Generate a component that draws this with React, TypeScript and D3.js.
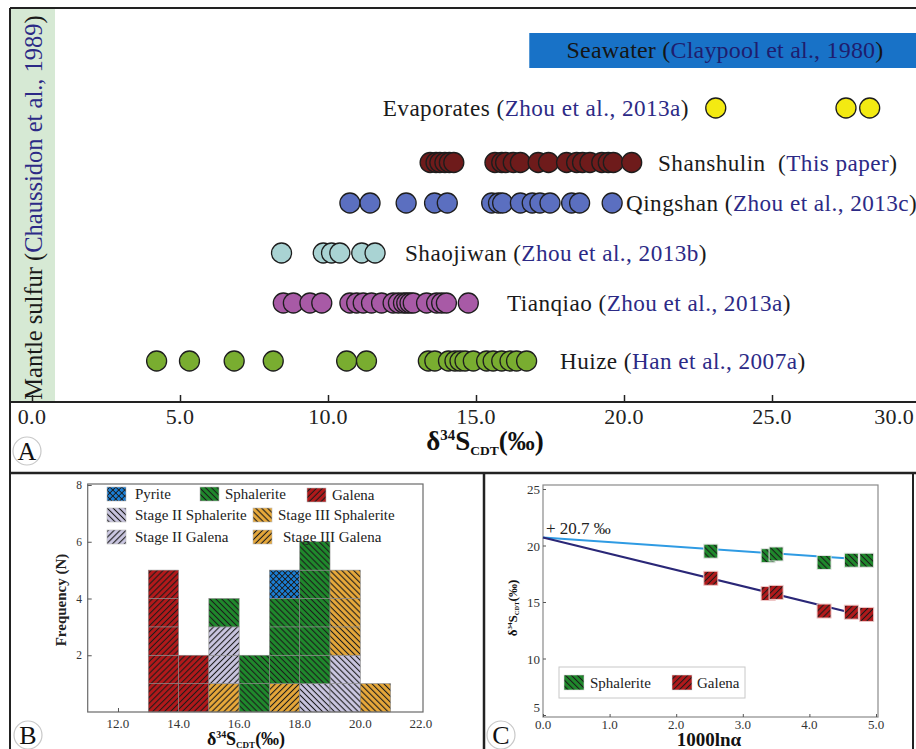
import { useEffect, useRef } from "react";
import * as d3 from "d3";

const W = 916;
const H = 749;

// ---- Panel A: δ34S of sulfur reservoirs / deposits ----
const SOURCES = ["Evaporates", "Shanshulin", "Qingshan", "Shaojiwan", "Tianqiao", "Huize"];
const CITES = ["Zhou et al., 2013a", "This paper", "Zhou et al., 2013c", "Zhou et al., 2013b", "Zhou et al., 2013a", "Han et al., 2007a"];
const evaporates = [23.1, 27.5, 28.3];
const shanshulin = [13.45, 13.65, 13.78, 13.95, 14.1, 14.25, 15.64, 15.87, 16.0, 16.26, 16.5, 17.1, 17.45, 18.06, 18.4, 18.6, 18.85, 19.25, 19.47, 19.64, 20.26];
const qingshan = [10.74, 11.42, 12.64, 13.6, 14.03, 15.53, 15.76, 15.9, 16.5, 16.9, 17.16, 17.5, 18.23, 18.5, 19.6];
const shaojiwan = [8.43, 9.84, 10.12, 10.4, 11.14, 11.59];
const tianqiao = [8.49, 8.83, 9.39, 9.79, 10.74, 10.97, 11.19, 11.47, 11.81, 12.2, 12.38, 12.55, 12.66, 12.77, 12.88, 13.33, 13.67, 13.84, 14.0, 14.74];
const huize = [4.21, 5.32, 6.83, 8.15, 10.63, 11.3, 13.39, 13.61, 14.07, 14.29, 14.46, 14.63, 14.91, 15.36, 15.58, 15.87, 16.15, 16.37, 16.71];
const SERIES = [evaporates, shanshulin, qingshan, shaojiwan, tianqiao, huize];
const SERIES_COLORS = ["#f3ea12", "#6e1b1b", "#5b6fc0", "#a9d3d3", "#a85aa6", "#79ad30"];
const seawater = [16.8, 31];
const aTicks = [0, 5, 10, 15, 20, 25, 30];

// ---- Panel B: histogram (counts per 1‰ bin) ----
const binStarts = [13, 14, 15, 16, 17, 18, 19, 20];
const galena = [5, 2, 0, 0, 0, 0, 0, 0];
const stage3Galena = [0, 0, 1, 0, 1, 0, 0, 0];
const stage2Sphalerite = [0, 0, 0, 0, 0, 1, 2, 0];
const stage2Galena = [0, 0, 2, 0, 0, 0, 0, 0];
const sphalerite = [0, 0, 1, 2, 3, 5, 0, 0];
const stage3Sphalerite = [0, 0, 0, 0, 0, 0, 3, 1];
const pyrite = [0, 0, 0, 0, 1, 0, 0, 0];
const bXTicks = [12, 14, 16, 18, 20, 22];
const bYTicks = [2, 4, 6, 8];

// ---- Panel C: 1000lnα vs δ34S ----
const fracX = [2.52, 3.38, 3.5, 4.22, 4.63, 4.86];
const sphC = [19.5, 19.1, 19.25, 18.5, 18.7, 18.7];
const galC = [17.1, 15.75, 15.85, 14.2, 14.1, 13.9];
const sphLine = [[0, 20.7], [4.6, 18.85]];
const galLine = [[0, 20.7], [4.6, 14.1]];
const cXTicks = [0, 1, 2, 3, 4, 5];
const cYTicks = [5, 10, 15, 20, 25];

const SERIF = "'Liberation Serif', 'Times New Roman', serif";
const NAVY = "#2c2a86";

type Sel = d3.Selection<any, unknown, null, undefined>;

function deltaTitle(t: Sel, size: number) {
  t.append("tspan").text("δ");
  t.append("tspan").attr("font-size", size * 0.55).attr("dy", -size * 0.38).text("34");
  t.append("tspan").attr("dy", size * 0.38).text("S");
  t.append("tspan").attr("font-size", size * 0.5).attr("dy", size * 0.18).text("CDT");
  t.append("tspan").attr("dy", -size * 0.18).text("(‰)");
}

function hatch(defs: Sel, id: string, fill: string, angle: number, cross = false) {
  const s = 4.2;
  const p = defs
    .append("pattern")
    .attr("id", id)
    .attr("patternUnits", "userSpaceOnUse")
    .attr("width", s)
    .attr("height", s)
    .attr("patternTransform", `rotate(${angle})`);
  p.append("rect").attr("width", s).attr("height", s).attr("fill", fill);
  p.append("line").attr("x1", s / 2).attr("x2", s / 2).attr("y1", 0).attr("y2", s)
    .attr("stroke", "#1b1b1b").attr("stroke-width", cross ? 0.9 : 1.1);
  if (cross)
    p.append("line").attr("y1", s / 2).attr("y2", s / 2).attr("x1", 0).attr("x2", s)
      .attr("stroke", "#1b1b1b").attr("stroke-width", 0.9);
}

function panelLetter(svg: Sel, x: number, y: number, letter: string) {
  svg.append("circle").attr("cx", x).attr("cy", y).attr("r", 14)
    .attr("fill", "#fff").attr("stroke", "#c8c8c8").attr("stroke-width", 1.2);
  svg.append("text").attr("x", x).attr("y", y + 9).attr("text-anchor", "middle")
    .attr("font-family", SERIF).attr("font-size", 26).attr("fill", "#111").text(letter);
}

export default function App() {
  const svgRef = useRef<SVGSVGElement>(null);

  useEffect(() => {
    if (!svgRef.current) return;
    const svg = d3.select(svgRef.current);
    svg.selectAll("*").remove();

    const defs = svg.append("defs");
    hatch(defs, "sph", "#1f8a2c", -45);
    hatch(defs, "gal", "#b3191b", 45);
    hatch(defs, "s2sph", "#cbc7e2", -45);
    hatch(defs, "s2gal", "#cbc7e2", 45);
    hatch(defs, "s3sph", "#e8a93a", -45);
    hatch(defs, "s3gal", "#e8a93a", 45);
    hatch(defs, "pyr", "#1a7fd6", 45, true);

    svg.append("rect").attr("width", W).attr("height", H).attr("fill", "#fff");

    // ================= Panel A =================
    const xA = d3.scaleLinear().domain([0, 30]).range([32, 920]);
    const rowY = [108, 162.5, 203, 253, 303, 361];
    const axisY = 402;

    // mantle sulfur band
    svg.append("rect").attr("x", 11).attr("y", 9).attr("width", 44).attr("height", axisY - 9)
      .attr("fill", "#d6e9d4");
    const mt = svg.append("text")
      .attr("transform", `translate(42,${(axisY + 13) / 2}) rotate(-90)`)
      .attr("text-anchor", "middle").attr("font-family", SERIF).attr("font-size", 24.5).attr("fill", "#1a1a1a");
    mt.append("tspan").text("Mantle sulfur (");
    mt.append("tspan").attr("fill", NAVY).text("Chaussidon et al., 1989");
    mt.append("tspan").text(")");

    // seawater bar
    svg.append("rect").attr("x", xA(seawater[0])).attr("y", 33).attr("width", xA(seawater[1]) - xA(seawater[0]))
      .attr("height", 35).attr("fill", "#1872c7");
    const sw = svg.append("text").attr("x", 725).attr("y", 58).attr("text-anchor", "middle")
      .attr("font-family", SERIF).attr("font-size", 24).attr("letter-spacing", 0.2).attr("fill", "#151515");
    sw.append("tspan").text("Seawater (");
    sw.append("tspan").attr("fill", "#1f1d6e").text("Claypool et al., 1980");
    sw.append("tspan").text(")");

    // rows of circles
    SERIES.forEach((vals, i) => {
      svg.append("g").selectAll("circle").data(vals).join("circle")
        .attr("cx", (d) => xA(d)).attr("cy", rowY[i]).attr("r", 10)
        .attr("fill", SERIES_COLORS[i]).attr("stroke", "#1d1d1d").attr("stroke-width", 1.3);
    });

    // row labels
    const labelPos: [number, string][] = [[689, "end"], [658, "start"], [626, "start"], [405, "start"], [507, "start"], [560, "start"]];
    SOURCES.forEach((name, i) => {
      const t = svg.append("text").attr("x", labelPos[i][0]).attr("y", rowY[i] + 8)
        .attr("text-anchor", labelPos[i][1]).attr("font-family", SERIF).attr("font-size", 23.2)
        .attr("fill", "#1a1a1a").attr("letter-spacing", 0.45);
      t.append("tspan").text(name + (name === "Shanshulin" ? "\u00a0\u00a0(" : " ("));
      t.append("tspan").attr("fill", NAVY).text(CITES[i]);
      t.append("tspan").text(")");
    });

    // x axis
    svg.append("line").attr("x1", 10).attr("x2", W).attr("y1", axisY).attr("y2", axisY)
      .attr("stroke", "#222").attr("stroke-width", 1.8);
    const gA = svg.append("g").attr("transform", `translate(0,${axisY})`)
      .call(d3.axisTop(xA).tickValues(aTicks).tickSize(7).tickFormat(() => ""));
    gA.select(".domain").remove();
    gA.selectAll(".tick line").attr("stroke", "#222").attr("stroke-width", 1.5);
    svg.append("g").selectAll("text").data(aTicks).join("text")
      .attr("x", (d) => (d === 30 ? W - 2 : xA(d)))
      .attr("y", axisY + 22)
      .attr("text-anchor", (d) => (d === 30 ? "end" : "middle"))
      .attr("font-family", SERIF).attr("font-size", 22).attr("letter-spacing", 0.3).attr("fill", "#222")
      .text((d) => d3.format(".1f")(d));
    const tA = svg.append("text").attr("x", 485).attr("y", 450).attr("text-anchor", "middle")
      .attr("font-family", SERIF).attr("font-size", 27).attr("font-weight", "bold").attr("fill", "#111");
    deltaTitle(tA, 27);

    // ================= Panel B =================
    const xB = d3.scaleLinear().domain([11, 22.07]).range([87.7, 423]);
    const yB = d3.scaleLinear().domain([0, 8]).range([712, 485]);
    const keys = ["galena", "stage3Galena", "stage2Sphalerite", "stage2Galena", "sphalerite", "stage3Sphalerite", "pyrite"];
    const fills: Record<string, string> = {
      galena: "url(#gal)", stage3Galena: "url(#s3gal)", stage2Sphalerite: "url(#s2sph)",
      stage2Galena: "url(#s2gal)", sphalerite: "url(#sph)", stage3Sphalerite: "url(#s3sph)", pyrite: "url(#pyr)",
    };
    const table = binStarts.map((b, i) => ({
      bin: b, galena: galena[i], stage3Galena: stage3Galena[i], stage2Sphalerite: stage2Sphalerite[i],
      stage2Galena: stage2Galena[i], sphalerite: sphalerite[i], stage3Sphalerite: stage3Sphalerite[i], pyrite: pyrite[i],
    }));
    const stacked = d3.stack<any>().keys(keys)(table);
    const gB = svg.append("g");
    stacked.forEach((layer) => {
      layer.forEach((seg) => {
        const [y0, y1] = seg;
        const bin = seg.data.bin;
        for (let u = y0; u < y1; u++) {
          gB.append("rect")
            .attr("x", xB(bin)).attr("width", xB(bin + 1) - xB(bin))
            .attr("y", yB(u + 1)).attr("height", yB(u) - yB(u + 1))
            .attr("fill", fills[layer.key]).attr("stroke", "#8a8a8a").attr("stroke-width", 0.6);
        }
      });
    });
    svg.append("rect").attr("x", 87.7).attr("y", 484).attr("width", 423 - 87.7).attr("height", 712 - 484)
      .attr("fill", "none").attr("stroke", "#6a6a6a").attr("stroke-width", 1.2);
    const gBy = svg.append("g").attr("transform", "translate(87.7,0)")
      .call(d3.axisRight(yB).tickValues(bYTicks).tickSize(4).tickFormat(() => ""));
    gBy.select(".domain").remove();
    gBy.selectAll(".tick line").attr("stroke", "#555");
    svg.append("g").selectAll("text").data(bYTicks).join("text")
      .attr("x", 82).attr("y", (d) => yB(d) + 4).attr("text-anchor", "end")
      .attr("font-family", SERIF).attr("font-size", 11.5).attr("fill", "#333").text((d) => d);
    const gBx = svg.append("g").attr("transform", "translate(0,712)")
      .call(d3.axisTop(xB).tickValues(bXTicks.slice(0, 1)).tickSize(4).tickFormat(() => ""));
    gBx.select(".domain").remove();
    gBx.selectAll(".tick line").attr("stroke", "#555");
    svg.append("g").selectAll("text").data(bXTicks).join("text")
      .attr("x", (d) => xB(d)).attr("y", 728).attr("text-anchor", "middle")
      .attr("font-family", SERIF).attr("font-size", 13).attr("fill", "#333").text((d) => d3.format(".1f")(d));
    const tB = svg.append("text").attr("x", 246).attr("y", 745).attr("text-anchor", "middle")
      .attr("font-family", SERIF).attr("font-size", 18).attr("font-weight", "bold").attr("fill", "#111");
    deltaTitle(tB, 18);
    svg.append("text").attr("transform", "translate(66,600) rotate(-90)").attr("text-anchor", "middle")
      .attr("font-family", SERIF).attr("font-size", 15).attr("font-weight", "bold").attr("fill", "#222")
      .text("Frequency (N)");

    // legend B
    const legB: [string, string, number, number, number][] = [
      ["Pyrite", "url(#pyr)", 107, 135, 494],
      ["Sphalerite", "url(#sph)", 200, 225, 494],
      ["Galena", "url(#gal)", 307, 332, 495],
      ["Stage II Sphalerite", "url(#s2sph)", 107, 135, 515],
      ["Stage III Sphalerite", "url(#s3sph)", 253, 278, 515],
      ["Stage II Galena", "url(#s2gal)", 107, 135, 537],
      ["Stage III Galena", "url(#s3gal)", 253, 283, 537],
    ];
    legB.forEach(([label, fill, sx, tx, cy]) => {
      svg.append("rect").attr("x", sx).attr("y", cy - 7).attr("width", 19).attr("height", 14)
        .attr("fill", fill).attr("stroke", "#bbb").attr("stroke-width", 0.6);
      svg.append("text").attr("x", tx).attr("y", cy + 5).attr("font-family", SERIF).attr("font-size", 15)
        .attr("fill", "#222").text(label);
    });

    // ================= Panel C =================
    const xC = d3.scaleLinear().domain([0, 5]).range([543, 876]);
    const yC = d3.scaleLinear().domain([5, 25]).range([715, 489]);
    svg.append("rect").attr("x", 543).attr("y", 485).attr("width", 878 - 543).attr("height", 717 - 485)
      .attr("fill", "none").attr("stroke", "#8a8a8a").attr("stroke-width", 1.2);
    const line = d3.line<number[]>().x((d) => xC(d[0])).y((d) => yC(d[1]));
    svg.append("path").attr("d", line(sphLine)).attr("fill", "none").attr("stroke", "#2f9be3").attr("stroke-width", 2);
    svg.append("path").attr("d", line(galLine)).attr("fill", "none").attr("stroke", "#2a2777").attr("stroke-width", 2);
    const sq = 14;
    svg.append("g").selectAll("rect").data(fracX).join("rect")
      .attr("x", (d) => xC(d) - sq / 2).attr("y", (_, i) => yC(sphC[i]) - sq / 2)
      .attr("width", sq).attr("height", sq).attr("fill", "url(#sph)").attr("stroke", "#e6e6e6").attr("stroke-width", 1);
    svg.append("g").selectAll("rect").data(fracX).join("rect")
      .attr("x", (d) => xC(d) - sq / 2).attr("y", (_, i) => yC(galC[i]) - sq / 2)
      .attr("width", sq).attr("height", sq).attr("fill", "url(#gal)").attr("stroke", "#f0c8c8").attr("stroke-width", 1);

    const gCy = svg.append("g").attr("transform", "translate(543,0)")
      .call(d3.axisRight(yC).tickValues(cYTicks).tickSize(3).tickFormat(() => ""));
    gCy.select(".domain").remove();
    gCy.selectAll(".tick line").attr("stroke", "#555");
    svg.append("g").selectAll("text").data(cYTicks).join("text")
      .attr("x", 540).attr("y", (d) => yC(d) + (d === 5 ? -3 : 5)).attr("text-anchor", "end")
      .attr("font-family", SERIF).attr("font-size", 13).attr("fill", "#333").text((d) => d);
    const gCx = svg.append("g").attr("transform", "translate(0,717)")
      .call(d3.axisTop(xC).tickValues(cXTicks).tickSize(3).tickFormat(() => ""));
    gCx.select(".domain").remove();
    gCx.selectAll(".tick line").attr("stroke", "#555");
    svg.append("g").selectAll("text").data(cXTicks).join("text")
      .attr("x", (d) => xC(d)).attr("y", 729).attr("text-anchor", "middle")
      .attr("font-family", SERIF).attr("font-size", 13).attr("fill", "#333").text((d) => d3.format(".1f")(d));
    svg.append("text").attr("x", 709).attr("y", 746).attr("text-anchor", "middle")
      .attr("font-family", SERIF).attr("font-size", 19).attr("font-weight", "bold").attr("fill", "#111").text("1000lnα");
    const tC = svg.append("text").attr("transform", "translate(517,608) rotate(-90)").attr("text-anchor", "middle")
      .attr("font-family", SERIF).attr("font-size", 13).attr("font-weight", "bold").attr("fill", "#111");
    deltaTitle(tC, 13);
    svg.append("text").attr("x", 546).attr("y", 534).attr("font-family", SERIF).attr("font-size", 17)
      .attr("fill", "#222").text("+ 20.7 ‰");

    // legend C
    svg.append("rect").attr("x", 559).attr("y", 667).attr("width", 186).attr("height", 31)
      .attr("fill", "#fff").attr("stroke", "#c8c8c8").attr("stroke-width", 1);
    [["Sphalerite", "url(#sph)", 564, 590], ["Galena", "url(#gal)", 672, 697]].forEach(([label, fill, sx, tx]) => {
      svg.append("rect").attr("x", sx as number).attr("y", 675).attr("width", 20).attr("height", 15)
        .attr("fill", fill as string).attr("stroke", "#ddd").attr("stroke-width", 0.6);
      svg.append("text").attr("x", tx as number).attr("y", 688).attr("font-family", SERIF).attr("font-size", 15)
        .attr("fill", "#222").text(label as string);
    });

    // ================= frames & panel letters =================
    const frame = svg.append("g").attr("stroke", "#222").attr("fill", "none");
    frame.append("line").attr("x1", 10).attr("x2", W).attr("y1", 8).attr("y2", 8).attr("stroke-width", 2);
    frame.append("line").attr("x1", 10).attr("x2", 10).attr("y1", 8).attr("y2", H).attr("stroke-width", 2);
    frame.append("line").attr("x1", 10).attr("x2", W).attr("y1", 473).attr("y2", 473).attr("stroke-width", 2.5);
    frame.append("line").attr("x1", 484).attr("x2", 484).attr("y1", 473).attr("y2", H).attr("stroke-width", 2.5);
    frame.append("line").attr("x1", 913).attr("x2", 913).attr("y1", 473).attr("y2", H).attr("stroke-width", 2);

    panelLetter(svg, 27, 451, "A");
    panelLetter(svg, 28, 735, "B");
    panelLetter(svg, 501, 735, "C");
  }, []);

  return (
    <svg
      ref={svgRef}
      width={W}
      height={H}
      style={{ position: "absolute", left: 0, top: 0, display: "block" }}
    />
  );
}
